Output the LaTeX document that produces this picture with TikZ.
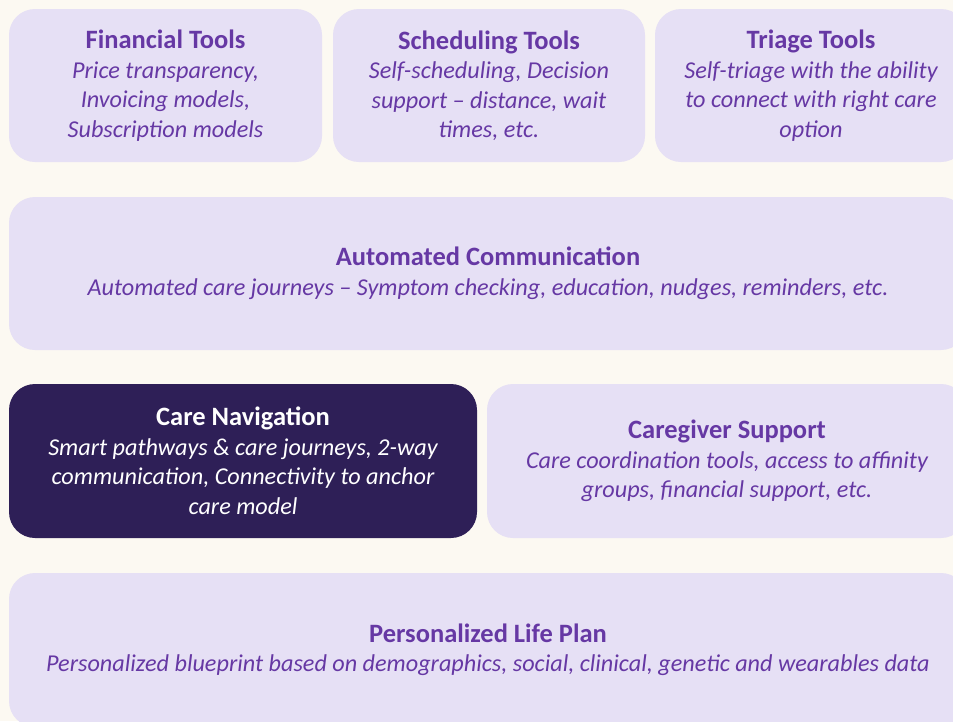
\documentclass[tikz,border=0pt]{standalone}
\usepackage{fontspec}
\setmainfont{Carlito}
\definecolor{paper}{HTML}{FCF9F2}
\definecolor{lilac}{HTML}{E6E0F5}
\definecolor{plum}{HTML}{6638A4}
\definecolor{night}{HTML}{2E1F57}
\newcommand{\boxhead}[1]{{\fontsize{26.5}{29.5}\selectfont\upshape\bfseries #1}}

\begin{document}
\begin{tikzpicture}[x=1pt,y=-1pt,
    tilebox/.style={rectangle, rounded corners=26pt, fill=lilac, text=plum, align=center, inner sep=0pt,
      minimum height=153pt, font=\fontsize{24.2}{29.5}\selectfont\itshape},
    darkbox/.style={tilebox, fill=night, text=white}
    ]
    \useasboundingbox (0,0) rectangle (953,721);
    \clip (0,0) rectangle (953,721);
    \fill [paper] (0,0) rectangle (953,721);

    % top row
    \node [tilebox, minimum width=313pt] (fin) at (165.5,85.5)
      {\boxhead{Financial Tools}\\ Price transparency,\\ Invoicing models,\\ Subscription models};
    \node [tilebox, minimum width=312pt] (sched) at (489,85.5)
      {\boxhead{Scheduling Tools}\\ Self-scheduling, Decision\\ support -- distance, wait\\ times, etc.};
    \node [tilebox, minimum width=312pt] (triage) at (811,85.5)
      {\boxhead{Triage Tools}\\ Self-triage with the ability\\ to connect with right care\\ option};

    \node [tilebox, minimum width=958pt] (auto) at (488,273.5)
      {\boxhead{Automated Communication}\\ Automated care journeys -- Symptom checking, education, nudges, reminders, etc.};

    \node [darkbox, minimum width=468pt, minimum height=154pt] (nav) at (243,461)
      {\boxhead{Care Navigation}\\ Smart pathways \& care journeys, 2-way\\ communication, Connectivity to anchor\\ care model};
    \node [tilebox, minimum width=480pt, minimum height=154pt] (carer) at (727,461)
      {\boxhead{Caregiver Support}\\ Care coordination tools, access to affinity\\ groups, financial support, etc.};

    \node [tilebox, minimum width=958pt, minimum height=154pt] (plan) at (488,650)
      {\boxhead{Personalized Life Plan}\\ Personalized blueprint based on demographics, social, clinical, genetic and wearables data};
\end{tikzpicture}
\end{document}
